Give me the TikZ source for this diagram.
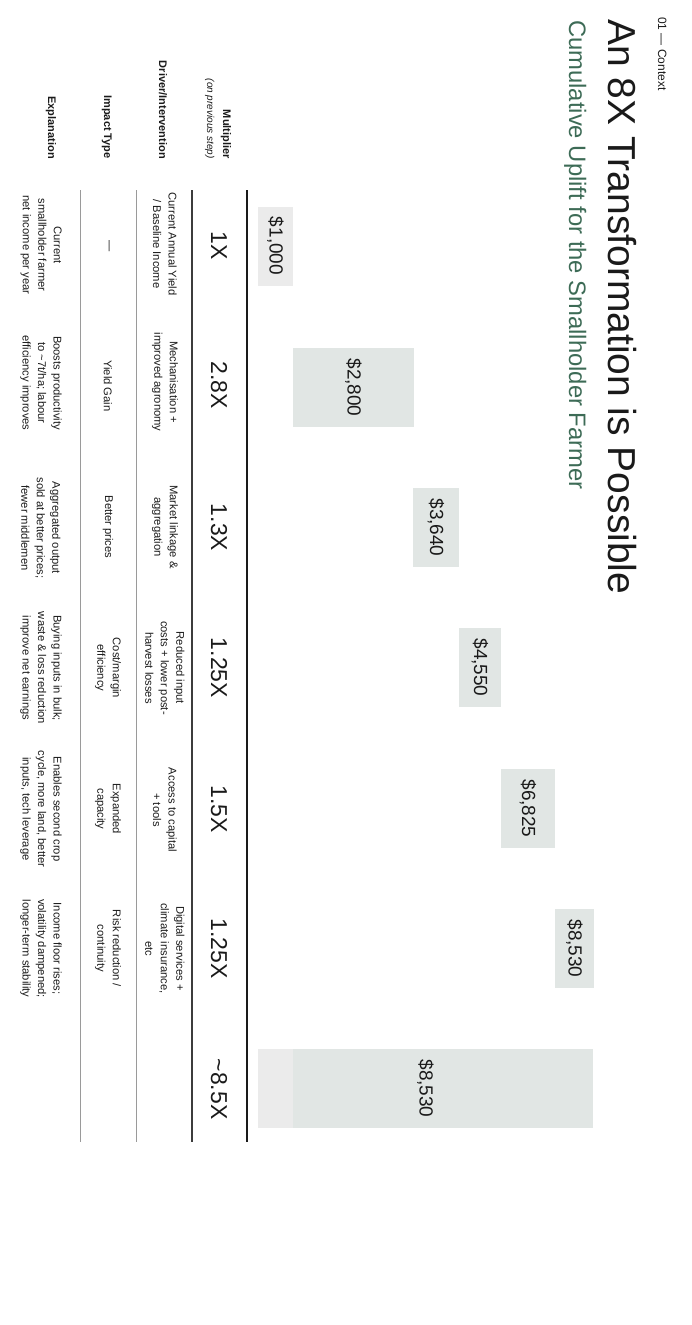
\documentclass[tikz,border=0pt]{standalone}
\usepackage{fontspec}
\setmainfont{Liberation Sans}
\definecolor{subgreen}{HTML}{3D6B56}
\definecolor{barneutral}{HTML}{EBEBEB}
\definecolor{bargreen}{HTML}{E1E6E4}
\definecolor{ink}{HTML}{1A1A1A}
\definecolor{rulegray}{HTML}{9A9A9A}
\tikzset{
  barbox/.style={rectangle, fill=bargreen, inner sep=0pt, minimum width=79pt, text=ink, font=\fontsize{19}{22}\selectfont},
  multtext/.style={anchor=base, inner sep=0pt, text=ink, font=\fontsize{23}{26}\selectfont},
  celltext/.style={align=center, inner sep=0pt, text=ink, font=\fontsize{11.2}{15.5}\selectfont},
  rowhead/.style={anchor=base east, inner sep=0pt, text=ink, font=\fontsize{11}{13}\selectfont\bfseries},
  mainrule/.style={draw=ink, line width=1.6pt},
  subrule/.style={draw=rulegray, line width=1pt}
}
\begin{document}
\begin{tikzpicture}[x=1pt,y=1pt]
\begin{scope}[rotate=-90, transform shape]
\path[use as bounding box] (0,0) rectangle (1325,692);
% header
\node[anchor=base west, inner sep=0pt, text=ink, font=\fontsize{12}{14}\selectfont] (ctx) at (17,658) {01 — Context};
\node[anchor=base west, inner sep=0pt, text=ink, font=\fontsize{39}{43}\selectfont] (title) at (19,608) {An 8X Transformation is Possible};
\node[anchor=base west, inner sep=0pt, text=subgreen, font=\fontsize{23.8}{28}\selectfont] (subtitle) at (20,569) {Cumulative Uplift for the Smallholder Farmer};
% rules
\coordinate (r1a) at (190,247); \coordinate (r1b) at (1142,247);
\coordinate (r2a) at (190,192); \coordinate (r2b) at (1142,192);
\coordinate (r3a) at (190,136); \coordinate (r3b) at (1142,136);
\coordinate (r4a) at (190,80);  \coordinate (r4b) at (1142,80);
\draw[draw=ink!85, line width=1.1pt] (r2a) -- (r2b);
\draw[subrule] (r3a) -- (r3b);
\draw[subrule] (r4a) -- (r4b);
% bars
\node[barbox, fill=barneutral, minimum height=35pt] (b1) at (246,275.5) {\$1,000};
\node[barbox, minimum height=121pt] (b2) at (387.5,353.5) {\$2,800};
\node[barbox, minimum height=46pt] (b3) at (527.5,436) {\$3,640};
\node[barbox, minimum height=42pt] (b4) at (667.5,480) {\$4,550};
\node[barbox, minimum height=54pt] (b5) at (808.5,528) {\$6,825};
\node[barbox, minimum height=39pt] (b6) at (948.5,574.5) {\$8,530};
\node[barbox, minimum height=335pt] (b7) at (1088.5,425.5) {\$8,530};
\fill[barneutral] (1049,258) rectangle (1128,293);
\draw[mainrule] (r1a) -- (r1b);
% row heads
\node[rowhead] (hmult) at (159,223) {Multiplier};
\node[rowhead, font=\fontsize{10}{12}\selectfont\itshape] (hmult2) at (159,207) {(on previous step)};
\node[rowhead] (hdrv) at (159,159) {Driver/Intervention};
\node[rowhead] (himp) at (159,104) {Impact Type};
\node[rowhead] (hexp) at (159,48) {Explanation};
% multipliers
\node[multtext] (m1) at (246,211) {1X};
\node[multtext] (m2) at (385,211) {2.8X};
\node[multtext] (m3) at (527.5,211) {1.3X};
\node[multtext] (m4) at (668,211) {1.25X};
\node[multtext] (m5) at (809,211) {1.5X};
\node[multtext] (m6) at (948.5,211) {1.25X};
\node[multtext] (m7) at (1089,211) {\textasciitilde 8.5X};
% drivers
\node[celltext] (d1) at (244,165) {Current Annual Yield\\/ Baseline Income};
\node[celltext] (d2) at (382,165) {Mechanisation +\\improved agronomy};
\node[celltext] (d3) at (527,165) {Market linkage \&\\aggregation};
\node[celltext] (d4) at (668,165) {Reduced input\\costs + lower post-\\harvest losses};
\node[celltext] (d5) at (810,165) {Access to capital\\+ tools};
\node[celltext] (d6) at (948.5,165) {Digital services +\\climate insurance,\\etc};
% impact
\node[celltext] (i1) at (246,108) {—};
\node[celltext] (i2) at (386,108) {Yield Gain};
\node[celltext] (i3) at (527,108) {Better prices};
\node[celltext] (i4) at (668,108) {Cost/margin\\efficiency};
\node[celltext] (i5) at (809,108) {Expanded\\capacity};
\node[celltext] (i6) at (948.5,108) {Risk reduction /\\continuity};
% explanation
\node[celltext] (e1) at (245,41) {Current\\smallholder farmer\\net income per year};
\node[celltext] (e2) at (383,41) {Boosts productivity\\to \textasciitilde 7t/ha; labour\\efficiency improves};
\node[celltext] (e3) at (528,41) {Aggregated output\\sold at better prices;\\fewer middlemen};
\node[celltext] (e4) at (668,41) {Buying inputs in bulk;\\waste \& loss reduction\\improve net earnings};
\node[celltext] (e5) at (809,41) {Enables second crop\\cycle, more land, better\\inputs, tech leverage};
\node[celltext] (e6) at (948.5,41) {Income floor rises;\\volatility dampened;\\longer-term stability};
\end{scope}
\end{tikzpicture}
\end{document}
